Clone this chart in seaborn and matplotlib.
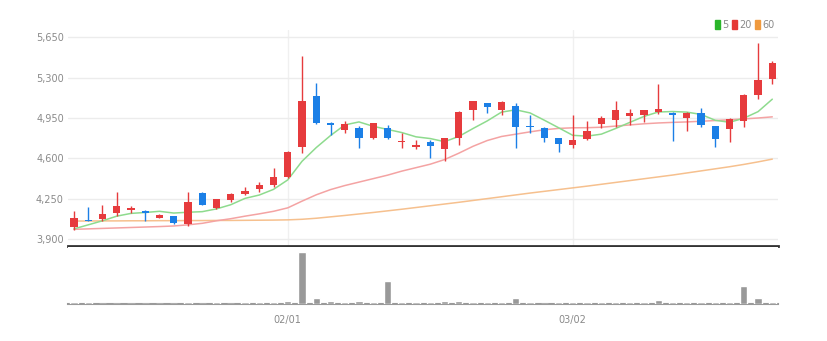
import numpy as np
import pandas as pd
import matplotlib
matplotlib.use("Agg")
import matplotlib.pyplot as plt
from matplotlib.patches import Patch
import seaborn as sns

# ---------------- data ----------------
holidays = ["2023-01-23", "2023-01-24", "2023-03-01"]
dates = pd.bdate_range("2023-01-09", "2023-03-22", freq="C", holidays=holidays)

opens = [4009, 4066, 4075, 4130, 4153, 4148, 4087, 4101, 4032, 4303,
         4173, 4240, 4289, 4332, 4369, 4441, 4695, 5141, 4908, 4844,
         4864, 4778, 4864, 4741, 4700, 4738, 4680, 4781, 5017, 5080,
         5017, 5054, 4881, 4864, 4773, 4715, 4767, 4896, 4937, 4971,
         4974, 5003, 4997, 4951, 4994, 4881, 4853, 4925, 5147, 5291]
closes = [4085, 4060, 4119, 4190, 4168, 4125, 4110, 4043, 4222, 4196,
          4246, 4289, 4317, 4369, 4441, 4652, 5097, 4911, 4888, 4902,
          4781, 4908, 4778, 4752, 4715, 4709, 4773, 5003, 5095, 5046,
          5089, 4873, 4868, 4781, 4721, 4758, 4838, 4954, 5023, 4989,
          5017, 5028, 4974, 4997, 4887, 4764, 4945, 5147, 5282, 5426]
highs = [4145, 4182, 4196, 4306, 4188, 4150, 4118, 4105, 4306, 4306,
         4250, 4300, 4350, 4398, 4513, 4660, 5484, 5256, 4912, 4925,
         4879, 4911, 4893, 4816, 4758, 4758, 4781, 5011, 5100, 5082,
         5095, 5080, 4974, 4870, 4778, 4974, 4922, 4965, 5098, 5026,
         5020, 5248, 5000, 5000, 5040, 4885, 4954, 5155, 5602, 5440]
lows = [3980, 4058, 4061, 4101, 4125, 4061, 4080, 4032, 4015, 4196,
        4165, 4225, 4282, 4311, 4354, 4427, 4648, 4902, 4801, 4821,
        4686, 4767, 4764, 4686, 4680, 4605, 4576, 4715, 4937, 4994,
        4974, 4691, 4816, 4738, 4657, 4686, 4758, 4864, 4868, 4887,
        4916, 4983, 4752, 4838, 4873, 4695, 4743, 4873, 5118, 5242]

ma5 = [3990, 4025, 4060, 4100, 4124, 4132, 4142, 4127, 4134, 4139,
       4163, 4199, 4254, 4283, 4332, 4414, 4575, 4694, 4798, 4890,
       4916, 4878, 4851, 4824, 4787, 4772, 4745, 4790, 4859, 4925,
       5001, 5021, 4994, 4931, 4866, 4800, 4793, 4810, 4859, 4912,
       4964, 5002, 5006, 5001, 4981, 4930, 4913, 4948, 5005, 5113]
ma20 = [3986, 3990, 3994, 3998, 4002, 4006, 4010, 4015, 4025, 4038,
        4060, 4078, 4100, 4120, 4142, 4172, 4230, 4285, 4330, 4365,
        4395, 4425, 4455, 4490, 4520, 4550, 4590, 4645, 4705, 4755,
        4790, 4810, 4830, 4848, 4860, 4865, 4866, 4870, 4880, 4890,
        4900, 4907, 4912, 4916, 4922, 4928, 4935, 4942, 4950, 4960]
ma60 = [4058, 4058, 4059, 4059, 4060, 4060, 4061, 4061, 4062, 4062,
        4063, 4063, 4064, 4065, 4066, 4068, 4073, 4082, 4094, 4106,
        4119, 4132, 4146, 4160, 4175, 4190, 4205, 4220, 4236, 4252,
        4268, 4284, 4300, 4315, 4330, 4345, 4360, 4376, 4392, 4408,
        4424, 4440, 4456, 4474, 4492, 4510, 4528, 4548, 4570, 4594]

volumes = [12, 12, 0, 0, 0, 0, 0, 0, 12, 0,
           12, 0, 12, 12, 12, 30, 515, 60, 25, 20,
           25, 12, 232, 12, 12, 12, 25, 30, 12, 12,
           12, 60, 20, 0, 12, 12, 20, 20, 12, 12,
           12, 40, 12, 12, 12, 12, 20, 177, 60, 20]

y_ticks = [3900, 4250, 4600, 4950, 5300, 5650]
ma_labels = ["5", "20", "60"]
tick_dates = ["02/01", "03/02"]

# ---------------- style ----------------
sns.set_theme(style="white")
plt.rcParams["font.family"] = ["Liberation Sans Narrow", "DejaVu Sans"]

RED = "#e63b3d"
BLUE = "#1b7fe6"
C_MA5 = "#8edb8e"
C_MA20 = "#f4a3a3"
C_MA60 = "#f6c08e"
LEG_COLORS = ["#2ab52a", "#e53935", "#f09a3e"]
TXT = "#8a8a8a"

df = pd.DataFrame({"i": np.arange(len(dates)), "date": dates,
                   "open": opens, "close": closes, "high": highs, "low": lows,
                   "ma5": ma5, "ma20": ma20, "ma60": ma60, "vol": volumes})
df["label"] = df["date"].dt.strftime("%m/%d")
up = df["close"] >= df["open"]
cols = np.where(up, RED, BLUE)

W, H = 828, 341
fig = plt.figure(figsize=(W / 100, H / 100), dpi=100)
x0, x1 = 68, 778
ax = fig.add_axes([x0 / W, (H - 245.5) / H, (x1 - x0) / W, (245.5 - 30) / H])
axv = fig.add_axes([x0 / W, (H - 303.5) / H, (x1 - x0) / W, (303.5 - 247) / H])

xlim = (-0.42, 49.4)

# price panel
ax.vlines(df["i"], df["low"], df["high"], colors=cols, lw=1, zorder=3)
body_h = (df["close"] - df["open"]).abs().clip(lower=7)
ax.bar(df["i"], body_h, bottom=np.minimum(df["open"], df["close"]),
       width=0.5, color=cols, zorder=4, linewidth=0)
sns.lineplot(data=df, x="i", y="ma60", color=C_MA60, lw=1.1, ax=ax, zorder=2)
sns.lineplot(data=df, x="i", y="ma20", color=C_MA20, lw=1.1, ax=ax, zorder=2)
sns.lineplot(data=df, x="i", y="ma5", color=C_MA5, lw=1.1, ax=ax, zorder=2)

ax.set_xlim(*xlim)
ax.set_ylim(3846, 5712)
ax.set_yticks(y_ticks)
ax.set_yticklabels([f"{v:,}" for v in y_ticks], color=TXT, fontsize=7)
tick_idx = df.loc[df["label"].isin(tick_dates), "i"].tolist()
ax.set_xticks(tick_idx)
ax.set_xticklabels([])
ax.tick_params(axis="both", length=0, pad=3)
ax.grid(True, axis="y", color="#ececec", lw=1)
ax.grid(True, axis="x", color="#f0f0f0", lw=1)
ax.set_xlabel("")
ax.set_ylabel("")
for s in ["top", "right", "left"]:
    ax.spines[s].set_visible(False)
ax.spines["bottom"].set_color("#333333")
ax.spines["bottom"].set_linewidth(2)

handles = [Patch(color=c) for c in LEG_COLORS]
ax.legend(handles, ma_labels, loc="upper right",
          bbox_to_anchor=(779 / W, 1 - 15 / H), bbox_transform=fig.transFigure,
          ncol=3, frameon=False, handlelength=0.5, handleheight=1.0,
          handletextpad=0.2, columnspacing=0.4, borderpad=0,
          fontsize=7, labelcolor=TXT)

# volume panel
sns.barplot(data=df, x="i", y="vol", native_scale=True, width=0.5,
            color="#999999", saturation=1, ax=axv, zorder=3)
axv.set_xlim(*xlim)
axv.set_ylim(0, 570)
axv.set_yticks([])
axv.set_xticks(tick_idx)
axv.set_xticklabels(df.loc[df["i"].isin(tick_idx), "label"], color=TXT, fontsize=7)
axv.tick_params(axis="x", length=4, width=1, color="#555555", pad=4, direction="out")
axv.set_xlabel("")
axv.set_ylabel("")
for s in ["top", "right", "left"]:
    axv.spines[s].set_visible(False)
axv.spines["bottom"].set_color("#9a9a9a")
axv.spines["bottom"].set_linewidth(1.5)

fig.savefig("out.png", dpi=100)
